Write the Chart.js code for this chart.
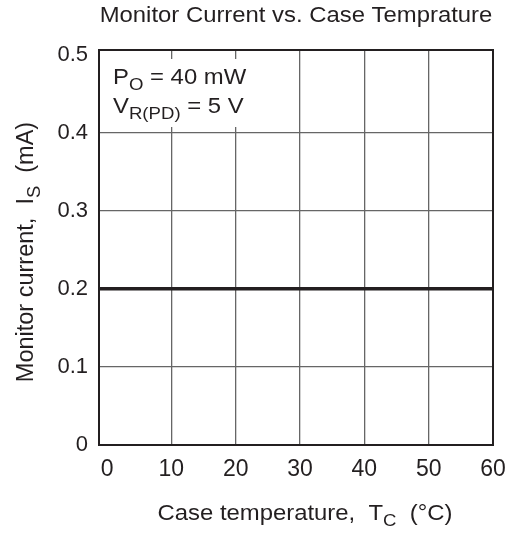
<!DOCTYPE html>
<html>
<head>
<meta charset="utf-8">
<script src="https://cdn.jsdelivr.net/npm/chart.js@4/dist/chart.umd.min.js"></script>
<style>
  body { margin: 0; background: #fff; }
  #wrap { width: 513px; height: 535px; }
</style>
</head>
<body>
<div id="wrap"><canvas id="myChart"></canvas></div>
<script>
'use strict';

// data
const caseTemp = [-1.25, 60];
const monitorCurrent = [0.2, 0.2];
const xTicks = [0, 10, 20, 30, 40, 50, 60];
const yTicks = [0, 0.1, 0.2, 0.3, 0.4, 0.5];
const xMin = -1.25, xMax = 60;
const yMin = 0, yMax = 0.506;

const FONT = '"Liberation Sans", Arial, Helvetica, sans-serif';
const INK = '#231f20';
const GRID = '#666666';
const STRETCH = 1.085; // source lettering is a bit wider than Arial

// text with subscript parts: [[text, isSub], ...]
function richWidth(ctx, parts, size) {
  let w = 0;
  for (const [t, sub] of parts) {
    ctx.font = (sub ? size * 0.78 : size) + 'px ' + FONT;
    w += ctx.measureText(t).width;
  }
  return w;
}

function drawRich(ctx, parts, x, y, size, align, sx) {
  sx = sx || 1;
  let w = richWidth(ctx, parts, size);
  ctx.save();
  ctx.translate(x, y);
  ctx.scale(sx, 1);
  let cx = align === 'center' ? -w / 2 : 0;
  ctx.textAlign = 'left';
  ctx.textBaseline = 'alphabetic';
  ctx.fillStyle = INK;
  for (const [t, sub] of parts) {
    ctx.font = (sub ? size * 0.78 : size) + 'px ' + FONT;
    ctx.fillText(t, cx, sub ? size * 0.28 : 0);
    cx += ctx.measureText(t).width;
  }
  ctx.restore();
}

const textPlugin = {
  id: 'textPlugin',
  afterDatasetsDraw(chart) {
    const ctx = chart.ctx;
    const a = chart.chartArea;
    ctx.save();
    // white box behind the conditions
    ctx.fillStyle = '#fff';
    ctx.fillRect(a.left + 5, a.top + 9, 183, 68);
    drawRich(ctx, [['P', false], ['O', true], [' = 40 mW', false]], a.left + 14, a.top + 34, 22, 'left', STRETCH);
    drawRich(ctx, [['V', false], ['R(PD)', true], [' = 5 V', false]], a.left + 14, a.top + 63, 22, 'left', STRETCH);
    ctx.restore();
  },
  afterDraw(chart) {
    const ctx = chart.ctx;
    const a = chart.chartArea;
    ctx.save();
    ctx.strokeStyle = INK;
    ctx.lineWidth = 2;
    ctx.strokeRect(a.left, a.top, a.right - a.left, a.bottom - a.top);

    drawRich(ctx, [['Monitor Current vs. Case Temprature', false]], 296, 22, 22, 'center', STRETCH);
    drawRich(ctx, [['Case temperature,  T', false], ['C', true], ['  (°C)', false]], 305, 520, 22, 'center', STRETCH);

    ctx.translate(33, 252);
    ctx.rotate(-Math.PI / 2);
    drawRich(ctx, [['Monitor current,  I', false], ['S', true], ['  (mA)', false]], 0, 0, 23.5, 'center', 1);
    ctx.restore();
  }
};

const data = {
  datasets: [{
    label: 'Monitor current',
    data: caseTemp.map((t, i) => ({ x: t, y: monitorCurrent[i] })),
    borderColor: INK,
    borderWidth: 3.5,
    pointRadius: 0,
    fill: false
  }]
};

const config = {
  type: 'line',
  data: data,
  options: {
    responsive: true,
    maintainAspectRatio: false,
    animation: false,
    layout: { padding: { top: 50, right: 20, left: 0, bottom: 0 } },
    plugins: {
      legend: { display: false },
      tooltip: { enabled: false }
    },
    scales: {
      x: {
        type: 'linear',
        min: xMin,
        max: xMax,
        afterBuildTicks: (s) => { s.ticks = xTicks.map(v => ({ value: v })); },
        afterFit: (s) => {
          s.height = 90;
          s.paddingRight = 0;
        },
        grid: {
          drawTicks: false,
          lineWidth: 1.3,
          color: (c) => (c.tick && c.tick.value === 0) ? 'rgba(0,0,0,0)' : GRID
        },
        border: { display: false },
        ticks: {
          padding: 11,
          maxRotation: 0,
          autoSkip: false,
          color: INK,
          font: { family: FONT, size: 23 },
          callback: (v) => String(v)
        }
      },
      y: {
        type: 'linear',
        min: yMin,
        max: yMax,
        afterBuildTicks: (s) => { s.ticks = yTicks.map(v => ({ value: v })); },
        afterFit: (s) => {
          s.width = 99;
          s.paddingTop = 0;
          s.paddingBottom = 0;
        },
        grid: {
          drawTicks: false,
          lineWidth: 1.3,
          color: (c) => (c.tick && c.tick.value === 0.5) ? 'rgba(0,0,0,0)' : GRID
        },
        border: { display: false },
        ticks: {
          padding: 11,
          autoSkip: false,
          color: INK,
          font: { family: FONT, size: 22 },
          callback: (v) => String(v)
        }
      }
    }
  },
  plugins: [textPlugin]
};

const canvasChart = document.getElementById('myChart');
const myChart = new Chart(canvasChart, config);
</script>
</body>
</html>
